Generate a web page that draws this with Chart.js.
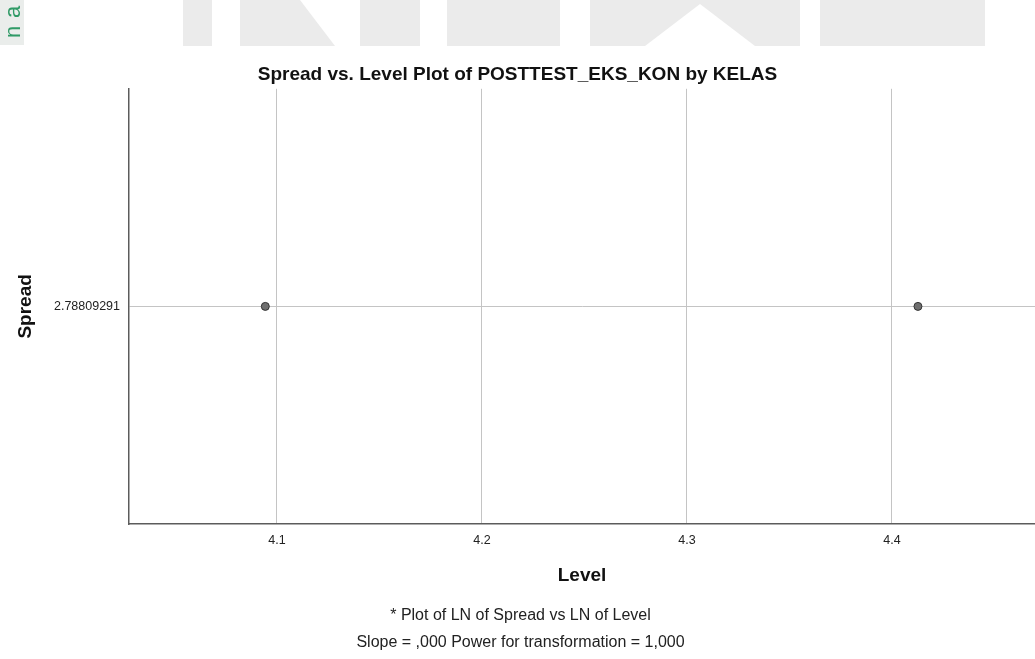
<!DOCTYPE html>
<html>
<head>
<meta charset="utf-8">
<script src="https://cdn.jsdelivr.net/npm/chart.js@4.4.0/dist/chart.umd.min.js"></script>
<style>
  html, body { margin: 0; padding: 0; background: #fff; }
  #wrap { width: 1035px; height: 659px; position: relative; }
</style>
</head>
<body>
<div id="wrap"><canvas id="grafico"></canvas></div>
<script>
// Spread vs. Level (SPSS output)
const level = [4.0943, 4.4127];
const spread = [2.78809291, 2.78809291];
const xTicks = [4.1, 4.2, 4.3, 4.4];
const yTicks = [2.78809291];
const yTickLabels = ['2.78809291'];
const footnotes = ['* Plot of LN of Spread vs LN of Level', 'Slope = ,000 Power for transformation = 1,000'];

const fontFamily = '"Liberation Sans", Arial, sans-serif';

// background + faded watermark from the scanned page
const fondo = {
  id: 'fondo',
  beforeDraw(chart) {
    const c = chart.ctx;
    c.save();
    c.fillStyle = '#ffffff';
    c.fillRect(0, 0, chart.width, chart.height);
    c.fillStyle = '#ebebeb';
    c.fillRect(183, 0, 802, 46);
    c.fillStyle = '#ffffff';
    c.beginPath();
    c.moveTo(212, 0); c.lineTo(240, 0); c.lineTo(240, 46); c.lineTo(212, 46); c.closePath();
    c.moveTo(300, 0); c.lineTo(360, 0); c.lineTo(360, 46); c.lineTo(335, 46); c.closePath();
    c.moveTo(420, 0); c.lineTo(447, 0); c.lineTo(447, 46); c.lineTo(420, 46); c.closePath();
    c.moveTo(560, 0); c.lineTo(590, 0); c.lineTo(590, 46); c.lineTo(560, 46); c.closePath();
    c.moveTo(645, 46); c.lineTo(700, 4); c.lineTo(755, 46); c.closePath();
    c.moveTo(800, 0); c.lineTo(820, 0); c.lineTo(820, 46); c.lineTo(800, 46); c.closePath();
    c.fill();
    c.fillStyle = '#eaedeb';
    c.fillRect(0, 0, 24, 45);
    c.fillStyle = '#2f9a66';
    c.font = '22px ' + fontFamily;
    c.textBaseline = 'alphabetic';
    c.save();
    c.translate(20, 38);
    c.rotate(-Math.PI / 2);
    c.fillText('n', 0, 0);
    c.restore();
    c.translate(20, 18);
    c.rotate(-Math.PI / 2);
    c.fillText('a', 0, 0);
    c.restore();
  }
};

// footnotes under the x axis title
const notas = {
  id: 'notas',
  afterDraw(chart) {
    const c = chart.ctx;
    const cx = chart.width / 2 + 3;
    c.save();
    c.fillStyle = '#222';
    c.font = '16px ' + fontFamily;
    c.textAlign = 'center';
    c.textBaseline = 'middle';
    c.fillText(footnotes[0], cx, 616);
    c.fillText(footnotes[1], cx, 643);
    c.restore();
  }
};

const ctx = document.getElementById('grafico').getContext('2d');
const grafico = new Chart(ctx, {
  type: 'scatter',
  data: {
    datasets: [{
      label: 'Spread',
      data: level.map((x, i) => ({ x: x, y: spread[i] })),
      backgroundColor: '#6f6f6f',
      borderColor: '#333333',
      borderWidth: 1,
      pointRadius: 4,
      pointHoverRadius: 4
    }]
  },
  options: {
    responsive: true,
    maintainAspectRatio: false,
    animation: false,
    layout: { autoPadding: false, padding: { top: 0, right: 0, bottom: 0, left: 0 } },
    scales: {
      x: {
        type: 'linear',
        min: 4.0278,
        max: 4.4698,
        afterBuildTicks: (s) => { s.ticks = xTicks.map(v => ({ value: v })); },
        afterFit: (s) => { s.height = 135; },
        ticks: {
          color: '#222',
          font: { family: fontFamily, size: 12.5 },
          padding: 9,
          maxRotation: 0,
          callback: (v) => v.toFixed(1)
        },
        grid: { color: '#c4c4c4', lineWidth: 1, drawTicks: false },
        border: { display: true, color: '#5c5c5c', width: 1.5 },
        title: {
          display: true,
          text: 'Level',
          color: '#111',
          font: { family: fontFamily, size: 19, weight: 'bold' },
          padding: { top: 0, bottom: 72 }
        }
      },
      y: {
        type: 'linear',
        min: yTicks[0] - 1,
        max: yTicks[0] + 1,
        afterBuildTicks: (s) => { s.ticks = yTicks.map(v => ({ value: v })); },
        afterFit: (s) => { s.width = 129; },
        ticks: {
          color: '#222',
          font: { family: fontFamily, size: 12.5 },
          padding: 9,
          callback: (v, i) => yTickLabels[i]
        },
        grid: { color: '#c4c4c4', lineWidth: 1, drawTicks: false },
        border: { display: true, color: '#5c5c5c', width: 1.5 },
        title: {
          display: true,
          text: 'Spread',
          color: '#111',
          font: { family: fontFamily, size: 19, weight: 'bold' },
          padding: { top: 14, bottom: 0 }
        }
      }
    },
    plugins: {
      legend: { display: false },
      tooltip: { enabled: false },
      title: {
        display: true,
        text: 'Spread vs. Level Plot of POSTTEST_EKS_KON by KELAS',
        color: '#111',
        font: { family: fontFamily, size: 19, weight: 'bold' },
        padding: { top: 63, bottom: 3 }
      }
    }
  },
  plugins: [fondo, notas]
});
</script>
</body>
</html>
